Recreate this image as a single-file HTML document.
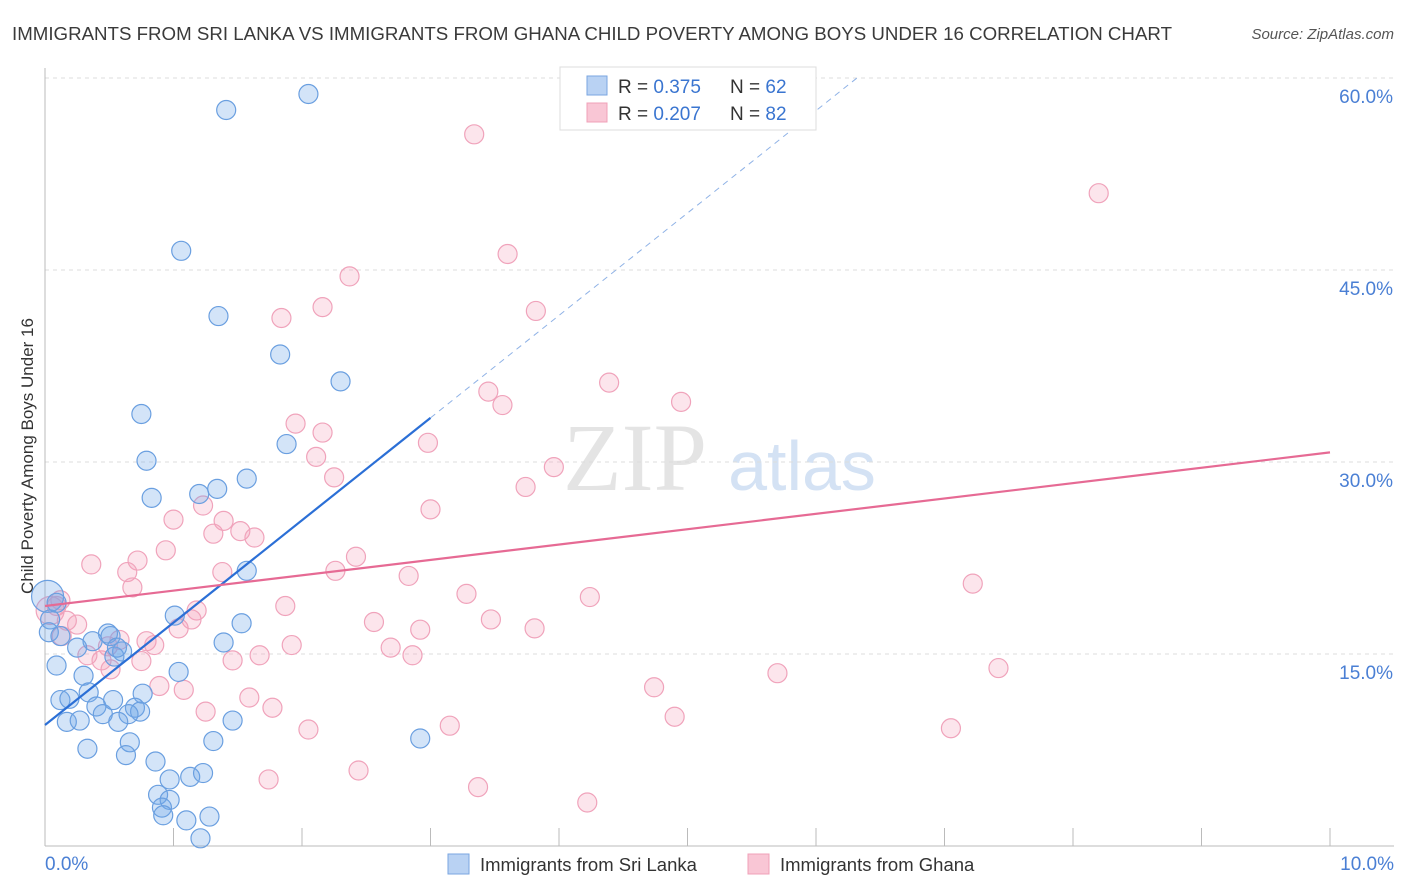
<!DOCTYPE html>
<html><head><meta charset="utf-8"><style>
body{margin:0;background:#fff;font-family:"Liberation Sans",sans-serif;}
svg{display:block}
</style></head><body>
<svg id="chart" width="1406" height="892" xmlns="http://www.w3.org/2000/svg" font-family="Liberation Sans, sans-serif">
<text x="12" y="40" font-size="18" fill="#3a3a3a" textLength="1160" lengthAdjust="spacingAndGlyphs">IMMIGRANTS FROM SRI LANKA VS IMMIGRANTS FROM GHANA CHILD POVERTY AMONG BOYS UNDER 16 CORRELATION CHART</text>
<text x="1394" y="39" font-size="15" fill="#555" font-style="italic" text-anchor="end">Source: ZipAtlas.com</text>
<text transform="translate(33,456) rotate(-90)" font-size="17" fill="#333" text-anchor="middle">Child Poverty Among Boys Under 16</text>
<g>
<text x="635" y="490" font-size="96" fill="#e4e4e4" font-family="Liberation Serif, serif" text-anchor="middle">ZIP</text>
<text x="802" y="490" font-size="70" fill="#d4e2f4" text-anchor="middle">atlas</text>
</g>
<g id="grid"></g><g id="axes"></g><g id="marks"></g><g id="lines"></g>
<g>
<rect x="560" y="67" width="256" height="63" fill="#fff" stroke="#ddd"/>
<rect x="587" y="76" width="20" height="19" fill="#b9d2f3" stroke="#7aa6e0"/>
<rect x="587" y="103" width="20" height="19" fill="#f9c6d5" stroke="#f0a0b8"/>
<text x="618" y="93" font-size="19" fill="#333">R = <tspan fill="#3a75d0">0.375</tspan></text>
<text x="730" y="93" font-size="19" fill="#333">N = <tspan fill="#3a75d0">62</tspan></text>
<text x="618" y="120" font-size="19" fill="#333">R = <tspan fill="#3a75d0">0.207</tspan></text>
<text x="730" y="120" font-size="19" fill="#333">N = <tspan fill="#3a75d0">82</tspan></text>
</g>
<g>
<rect x="448" y="854" width="21" height="20" fill="#b9d2f3" stroke="#7aa6e0"/>
<text x="480" y="871" font-size="18.5" fill="#333">Immigrants from Sri Lanka</text>
<rect x="748" y="854" width="21" height="20" fill="#f9c6d5" stroke="#f0a0b8"/>
<text x="780" y="871" font-size="18.5" fill="#333">Immigrants from Ghana</text>
</g>
</svg>
<script>
const yTicks=[15,30,45,60];
const yTickLabels=["15.0%","30.0%","45.0%","60.0%"];
const xEndLabels=["0.0%","10.0%"];
const blueX=[1.41,2.05,1.06,1.35,1.83,2.30,0.75,0.79,1.88,0.83,1.20,1.34,1.57,1.57,1.01,1.53,1.39,1.04,0.49,0.60,0.37,0.25,0.09,0.30,0.34,0.12,0.19,0.17,0.27,0.40,0.45,0.53,0.76,0.70,0.74,0.65,0.57,0.33,0.66,0.63,0.86,1.31,1.46,2.92,0.97,1.13,1.23,0.88,0.97,0.91,0.92,1.10,1.28,1.21,0.02,0.04,0.03,0.54,0.51,0.09,0.12,0.56];
const blueY=[57.5,58.75,46.5,41.4,38.4,36.3,33.75,30.1,31.4,27.2,27.5,27.9,28.7,21.5,18.0,17.4,15.9,13.6,16.6,15.2,16.0,15.5,14.1,13.3,12.0,11.4,11.5,9.7,9.8,10.9,10.3,11.4,11.9,10.8,10.5,10.3,9.7,7.6,8.1,7.1,6.6,8.2,9.8,8.4,5.2,5.4,5.7,4.0,3.6,3.0,2.4,2.0,2.3,0.6,19.5,17.7,16.7,14.8,16.4,19.0,16.4,15.5];
const pinkX=[3.34,8.20,3.60,2.37,2.16,1.84,3.82,3.45,3.56,4.39,4.95,2.98,1.95,2.16,2.11,2.25,3.96,3.74,3.00,1.00,1.23,1.39,1.52,1.63,1.31,0.94,0.72,0.36,0.64,0.68,1.38,2.42,2.26,2.83,3.28,4.24,7.22,1.87,1.18,1.14,1.04,0.58,0.79,0.85,0.49,0.44,0.33,0.25,0.17,0.09,0.12,0.04,0.13,1.67,1.46,1.92,2.56,2.92,3.47,3.81,2.69,2.86,0.75,0.51,0.89,1.08,1.59,1.25,1.77,2.05,3.15,4.74,4.90,5.70,7.42,7.05,2.44,3.37,1.74,4.22];
const pinkY=[55.6,51.0,46.25,44.5,42.1,41.25,41.8,35.5,34.45,36.2,34.7,31.5,33.0,32.3,30.4,28.8,29.6,28.05,26.3,25.5,26.6,25.4,24.6,24.1,24.4,23.1,22.3,22.0,21.4,20.2,21.4,22.6,21.5,21.1,19.7,19.45,20.5,18.75,18.4,17.7,17.0,16.1,16.0,15.7,15.6,14.5,14.9,17.3,17.6,18.75,19.2,18.4,16.4,14.9,14.5,15.7,17.5,16.9,17.7,17.0,15.5,14.9,14.45,13.8,12.5,12.2,11.6,10.5,10.8,9.1,9.4,12.4,10.1,13.5,13.9,9.2,5.9,4.6,5.2,3.4];
const blueTrend=[9.45,8.0]; // intercept, slope
const pinkTrend=[18.75,1.2];
const NS="http://www.w3.org/2000/svg";
const X=v=>45+v*128.5, Y=v=>846-v*12.8;
function mk(tag,attrs,parent){const e=document.createElementNS(NS,tag);for(const k in attrs)e.setAttribute(k,attrs[k]);document.getElementById(parent).appendChild(e);return e;}
yTicks.forEach((t,i)=>{
 const g=mk('line',{x1:45,x2:1394,y1:Y(t),y2:Y(t),stroke:'#ddd','stroke-dasharray':'4,4'},'grid');
 
 
 const l=mk('text',{x:1393,y:Y(t)+25,'font-size':19,fill:'#4a7fd4','text-anchor':'end'},'axes');
 l.textContent=yTickLabels[i];
 
 
});
const ga=mk('line',{x1:45,x2:45,y1:68,y2:846,stroke:'#bbb'},'axes');


const gb=mk('line',{x1:45,x2:1394,y1:846,y2:846,stroke:'#bbb'},'axes');


for(let i=1;i<=10;i++){const t=mk('line',{x1:X(i),x2:X(i),y1:828,y2:846,stroke:'#bbb'},'axes');
 
 }
[[0,'start',45],[10,'end',1394]].forEach((d,i)=>{const t=mk('text',{x:d[2],y:870,'font-size':19,fill:'#4a7fd4','text-anchor':d[1]},'axes');t.textContent=xEndLabels[i];
 
 });
function dots(xs,ys,fill,stroke,name,bigIdx,bigR){xs.forEach((x,i)=>{const c=mk('circle',{cx:X(x),cy:Y(ys[i]),r:i===bigIdx?bigR:9.5,fill:fill,stroke:stroke,'stroke-width':1.2},'marks');
 
 });}
dots(pinkX,pinkY,'rgba(244,160,188,0.28)','#f0a3bb','pink-point',51,14);
dots(blueX,blueY,'rgba(110,165,232,0.3)','#6a9fe0','blue-point',54,16);
const bx=3.0;
let l1=mk('line',{x1:X(0),y1:Y(blueTrend[0]),x2:X(bx),y2:Y(blueTrend[0]+blueTrend[1]*bx),stroke:'#2b6fd6','stroke-width':2.2},'lines');


const bx2=(60-blueTrend[0])/blueTrend[1];
let l2=mk('line',{x1:X(bx),y1:Y(blueTrend[0]+blueTrend[1]*bx),x2:X(bx2),y2:Y(60),stroke:'#8fb2e6','stroke-width':1,'stroke-dasharray':'6,5'},'lines');


let l3=mk('line',{x1:X(0),y1:Y(pinkTrend[0]),x2:X(10),y2:Y(pinkTrend[0]+pinkTrend[1]*10),stroke:'#e66a94','stroke-width':2.2},'lines');


</script>
</body></html>
